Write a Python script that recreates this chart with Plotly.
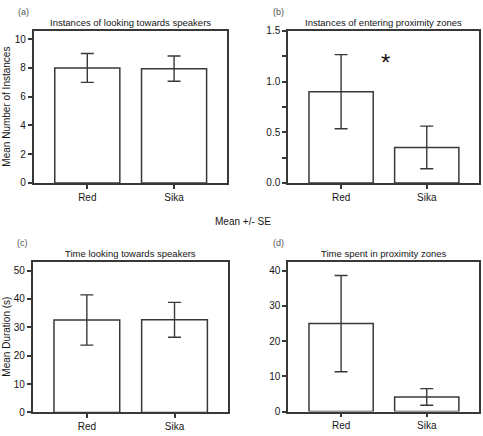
import plotly.graph_objects as go

categories = ["Red", "Sika"]

# (a) Instances of looking towards speakers
a_mean = [8.0, 7.95]
a_se = [1.0, 0.88]
# (b) Instances of entering proximity zones
b_mean = [0.9, 0.35]
b_se = [0.365, 0.21]
# (c) Time looking towards speakers
c_mean = [32.6, 32.65]
c_se = [8.85, 6.15]
# (d) Time spent in proximity zones
d_mean = [24.95, 4.15]
d_se = [13.65, 2.35]

titles = ["Instances of looking towards speakers",
          "Instances of entering proximity zones",
          "Time looking towards speakers",
          "Time spent in proximity zones"]
letters = ["(a)", "(b)", "(c)", "(d)"]
ylabels = ["Mean Number of Instances", "", "Mean Duration (s)", ""]
yranges = [[0, 10.55], [0, 1.5], [0, 53.1], [0, 42.5]]
ydticks = [2, 0.5, 10, 10]

W, H = 483, 436
# panel boxes in pixels: (left, right, top, bottom)
boxes = [(33.5, 227, 26, 182), (288, 479, 25.5, 182),
         (32.5, 228, 263, 418), (288, 479, 263, 417)]

LC = "#383838"
TC = "#151515"
FONT = "Liberation Sans, Arial, sans-serif"

fig = go.Figure()
means = [a_mean, b_mean, c_mean, d_mean]
ses = [a_se, b_se, c_se, d_se]

for i in range(4):
    n = "" if i == 0 else str(i + 1)
    fig.add_trace(go.Bar(
        x=categories, y=means[i], width=0.75,
        marker=dict(color="white", line=dict(color=LC, width=1.5)),
        error_y=dict(type="data", array=ses[i], visible=True,
                     color=LC, thickness=1.4, width=6.5),
        xaxis="x" + n, yaxis="y" + n, showlegend=False))
    l, r, t, b = boxes[i]
    xd = [l / W, r / W]
    yd = [1 - b / H, 1 - t / H]
    fig.layout["xaxis" + n] = dict(
        domain=xd, anchor="y" + n, type="category", range=[-0.62, 1.61],
        showline=True, mirror=True, linecolor=LC, linewidth=1.5,
        ticks="outside", ticklen=4, tickwidth=1.5, tickcolor=LC,
        showgrid=False, zeroline=False,
        tickfont=dict(family=FONT, size=10, color=TC))
    yax = dict(
        domain=yd, anchor="x" + n, range=yranges[i],
        showline=True, mirror=True, linecolor=LC, linewidth=1.5,
        ticks="outside", ticklen=4, tickwidth=1.5, tickcolor=LC,
        dtick=ydticks[i], tick0=0, showgrid=False, zeroline=False,
        tickfont=dict(family=FONT, size=10, color=TC))
    if i == 1:
        yax["tickformat"] = ".1f"
        yax["minor"] = dict(dtick=0.25, ticks="outside", ticklen=4,
                            tickwidth=1.5, tickcolor=LC, showgrid=False)
    fig.layout["yaxis" + n] = yax

    # panel title
    fig.add_annotation(x=(l + r) / 2 / W, y=1 - (t - 9) / H, xref="paper", yref="paper",
                       text=titles[i], showarrow=False, xanchor="center", yanchor="middle",
                       font=dict(family=FONT, size=9.5, color=TC))
    # panel letter
    fig.add_annotation(x=(l - 10) / W, y=1 - (t - 19.5) / H, xref="paper", yref="paper",
                       text=letters[i], showarrow=False, xanchor="center", yanchor="middle",
                       font=dict(family=FONT, size=9, color="#555555"))
    if ylabels[i]:
        fig.add_annotation(x=6.5 / W, y=1 - (t + b) / 2 / H, xref="paper", yref="paper",
                           text=ylabels[i], textangle=-90, showarrow=False,
                           xanchor="center", yanchor="middle",
                           font=dict(family=FONT, size=10, color=TC))

# significance mark
fig.add_annotation(x=0.52, y=1.19, xref="x2", yref="y2", text="*", showarrow=False,
                   xanchor="center", yanchor="middle",
                   font=dict(family=FONT, size=24, color=TC))

fig.add_annotation(x=243 / W, y=1 - 222 / H, xref="paper", yref="paper",
                   text="Mean +/- SE", showarrow=False, xanchor="center", yanchor="middle",
                   font=dict(family=FONT, size=10, color=TC))

fig.update_layout(width=W, height=H, margin=dict(l=0, r=0, t=0, b=0),
                  paper_bgcolor="white", plot_bgcolor="white",
                  bargap=0.25, font=dict(family=FONT))

fig.write_html("out.html", config={"displayModeBar": False},
               post_script="document.body.style.margin='0';document.body.style.overflow='hidden';")
